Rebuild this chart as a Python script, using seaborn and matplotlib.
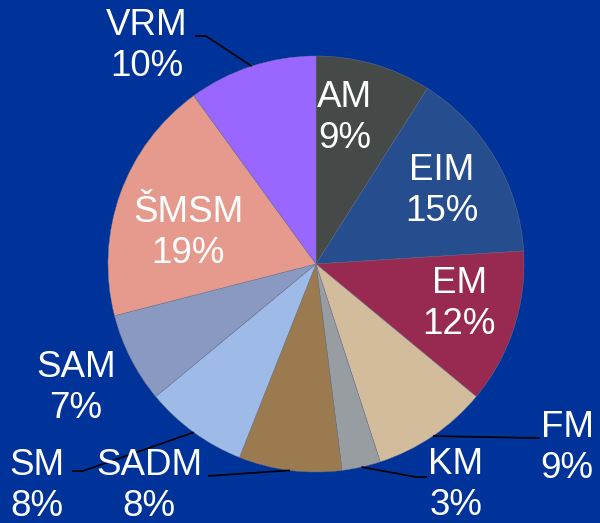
"""Pie chart of module shares on a blue slide background"""
import numpy as np
import matplotlib
matplotlib.use("Agg")
import matplotlib.pyplot as plt
import seaborn as sns

# data
labels = ["AM", "EIM", "EM", "FM", "KM", "SADM", "SM", "SAM", "ŠMSM", "VRM"]
shares = [9, 15, 12, 9, 3, 8, 8, 7, 19, 10]
colors = ["#454a48", "#264d8e", "#982a52", "#d3bc9c", "#979da0",
          "#9a7a4e", "#9ebae6", "#8a99c2", "#e59a8d", "#9966ff"]

# label placement (data units, pie radius = 1)
label_pos = {
    "AM": (0.139, 0.702), "EIM": (0.606, 0.351), "EM": (0.688, -0.192),
    "FM": (1.207, -0.885), "KM": (0.673, -1.063), "SADM": (-0.803, -1.067),
    "SM": (-1.341, -1.067), "SAM": (-1.154, -0.596), "ŠMSM": (-0.615, 0.149),
    "VRM": (-0.813, 1.048),
}
# leader lines: elbow/end points for outside labels
leaders = {
    "FM": [(1.077, -0.837)],
    "KM": [(0.481, -1.024), (0.534, -1.024)],
    "SADM": [(-0.519, -1.019)],
    "SM": [(-1.120, -0.995), (-1.173, -0.995)],
    "VRM": [(-0.529, 1.096), (-0.582, 1.096)],
}

sns.set_theme(style="white")
plt.rcParams["font.family"] = ["Liberation Sans", "DejaVu Sans"]

bg = "#003399"
fig = plt.figure(figsize=(6, 5.23), dpi=100, facecolor=bg)
ax = fig.add_axes([0, 0, 1, 1])
ax.set_facecolor(bg)

wedges, _ = ax.pie(shares, colors=colors, startangle=90, counterclock=False,
                   radius=1, wedgeprops=dict(linewidth=0.3, edgecolor="#707888"))

for w, lab, val in zip(wedges, labels, shares):
    x, y = label_pos[lab]
    ax.text(x, y, f"{lab}\n{val}%", ha="center", va="center", color="white",
            fontsize=26.5, linespacing=1.2)
    if lab in leaders:
        mid = np.deg2rad((w.theta1 + w.theta2) / 2)
        pts = [(np.cos(mid), np.sin(mid))] + leaders[lab]
        xs, ys = zip(*pts)
        ax.plot(xs, ys, color="black", lw=1.2, solid_capstyle="butt")

R = 208
ax.set_xlim(-316 / R, (600 - 316) / R)
ax.set_ylim(-(523 - 264) / R, 264 / R)
ax.set_aspect("equal")
ax.axis("off")

fig.savefig("out.png", dpi=100, facecolor=bg)
